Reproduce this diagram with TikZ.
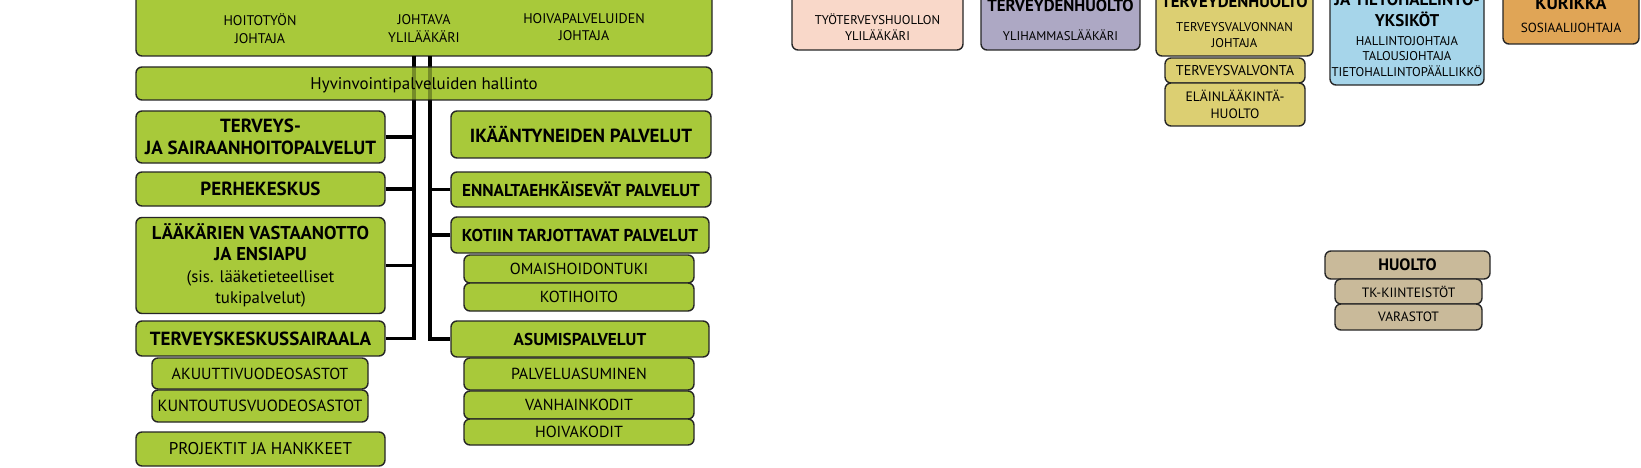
\documentclass[tikz,border=0pt]{standalone}
\usepackage{fontspec}
\setmainfont{PT Sans}
\definecolor{gr}{HTML}{A8C93A}
\definecolor{pk}{HTML}{F9D8C9}
\definecolor{lv}{HTML}{ADA8C4}
\definecolor{yl}{HTML}{DCCF72}
\definecolor{bl}{HTML}{A6D5EA}
\definecolor{og}{HTML}{E0A556}
\definecolor{tn}{HTML}{C9BA9A}
\tikzset{
  bx/.style={draw=black!85, line width=1.4pt, rounded corners=6pt, inner sep=0pt, align=center},
  gbox/.style={bx, fill=gr},
  bigf/.style={font=\fontsize{19}{22}\selectfont\bfseries},
  midf/.style={font=\fontsize{17.2}{20}\selectfont\bfseries},
  subf/.style={font=\fontsize{16}{18}\selectfont},
  topf/.style={font=\fontsize{14}{17.5}\selectfont},
  smf/.style={font=\fontsize{12.7}{16}\selectfont},
  conn/.style={line width=3.6pt, black},
  lbl/.style={inner sep=0pt, align=center}
}
\begin{document}
\begin{tikzpicture}[x=1pt,y=-1pt]
\useasboundingbox (0,0) rectangle (1641,468);
\clip (0,0) rectangle (1641,468);
\fill[white] (0,0) rectangle (1641,468);
% left big
\node[gbox, minimum width=576, minimum height=76] (top) at (424,18) {};
\node[lbl, topf] (t1) at (260,28.5) {HOITOTYÖN\\JOHTAJA};
\node[lbl, topf] (t2) at (424,28.5) {JOHTAVA\\YLILÄÄKÄRI};
\node[lbl, topf] (t3) at (584,27) {HOIVAPALVELUIDEN\\JOHTAJA};
\coordinate (sL) at (414,56);
\coordinate (sR) at (430,56);
% left column
\node[gbox, bigf, minimum width=249, minimum height=52] (terv) at (260.5,137) {TERVEYS-\\JA SAIRAANHOITOPALVELUT};
\node[gbox, bigf, minimum width=249, minimum height=34] (perhe) at (260.5,189) {PERHEKESKUS};
\node[gbox, minimum width=249, minimum height=96, font=\fontsize{16.8}{21.3}\selectfont] (laak) at (260.5,265.5) {\fontsize{18.6}{21.3}\selectfont\bfseries LÄÄKÄRIEN VASTAANOTTO\\\fontsize{18.6}{21.3}\selectfont\bfseries JA ENSIAPU\\(sis. lääketieteelliset\\tukipalvelut)};
\node[gbox, bigf, minimum width=249, minimum height=35] (tks) at (260.5,338.5) {TERVEYSKESKUSSAIRAALA};
\node[gbox, subf, minimum width=216, minimum height=31] (akuu) at (260,373.5) {AKUUTTIVUODEOSASTOT};
\node[gbox, font=\fontsize{16.2}{18}\selectfont, minimum width=216, minimum height=32] (kunt) at (260,406) {KUNTOUTUSVUODEOSASTOT};
\node[gbox, font=\fontsize{17}{18}\selectfont, minimum width=249, minimum height=34] (proj) at (260.5,449) {PROJEKTIT JA HANKKEET};
% right column
\node[gbox, bigf, minimum width=260, minimum height=47] (ikaa) at (581,134.5) {IKÄÄNTYNEIDEN PALVELUT};
\node[gbox, midf, minimum width=260, minimum height=35] (enna) at (581,189.5) {ENNALTAEHKÄISEVÄT PALVELUT};
\node[gbox, midf, minimum width=258, minimum height=36] (koti) at (580,235) {KOTIIN TARJOTTAVAT PALVELUT};
\node[gbox, subf, minimum width=230, minimum height=28] (omai) at (579,269) {OMAISHOIDONTUKI};
\node[gbox, subf, minimum width=230, minimum height=28] (kotih) at (579,297) {KOTIHOITO};
\node[gbox, midf, minimum width=258, minimum height=36] (asum) at (580,339) {ASUMISPALVELUT};
\node[gbox, subf, minimum width=230, minimum height=32] (palv) at (579,374) {PALVELUASUMINEN};
\node[gbox, subf, minimum width=230, minimum height=28] (vanh) at (579,405) {VANHAINKODIT};
\node[gbox, subf, minimum width=230, minimum height=26] (hoiv) at (579,432) {HOIVAKODIT};
% connectors
\draw[conn] (sL) |- (tks.east);
\draw[conn] (sR) |- (asum.west);
\draw[conn] (terv.east) -- (terv.east -| sL);
\draw[conn] (perhe.east) -- (perhe.east -| sL);
\draw[conn] (laak.east) -- (laak.east -| sL);
\draw[conn] (enna.west) -- (enna.west -| sR);
\draw[conn] (koti.west) -- (koti.west -| sR);
% hallinto over lines
\node[gbox, minimum width=576, minimum height=33, text depth=0pt, font=\fontsize{16.9}{20}\selectfont] (hall) at (424,83.5) {Hyvinvointipalveluiden hallinto};
\draw[conn, draw opacity=0.3] (hall.north -| sL) -- (hall.south -| sL);
\draw[conn, draw opacity=0.3] (hall.north -| sR) -- (hall.south -| sR);
% right top boxes
\node[bx, fill=pk, minimum width=171, minimum height=70] (pink) at (877.5,15) {};
\node[lbl, smf] (pinkt) at (877.5,27.5) {TYÖTERVEYSHUOLLON\\YLILÄÄKÄRI};
\node[bx, fill=lv, minimum width=159, minimum height=70] (purp) at (1060.5,15) {};
\node[lbl, font=\fontsize{16.8}{20}\selectfont\bfseries] (purpa) at (1060.5,6) {TERVEYDENHUOLTO};
\node[lbl, smf] (purpb) at (1060.5,35) {YLIHAMMASLÄÄKÄRI};
\node[bx, fill=yl, minimum width=157, minimum height=76] (yell) at (1234.5,18) {};
\node[lbl, font=\fontsize{16.8}{20}\selectfont\bfseries] (yella) at (1234.5,2) {TERVEYDENHUOLTO};
\node[lbl, smf] (yellb) at (1234.5,35) {TERVEYSVALVONNAN\\JOHTAJA};
\node[bx, fill=yl, font=\fontsize{14.2}{17}\selectfont, minimum width=140, minimum height=25] (tv) at (1235,70.5) {TERVEYSVALVONTA};
\node[bx, fill=yl, font=\fontsize{13.6}{17}\selectfont, minimum width=140, minimum height=43] (ela) at (1235,104.5) {ELÄINLÄÄKINTÄ-\\HUOLTO};
\node[bx, fill=bl, minimum width=154, minimum height=105] (blue) at (1407,32.5) {};
\node[lbl, font=\fontsize{17}{21}\selectfont\bfseries] (bluea) at (1407,10.5) {JA TIETOHALLINTO-\\YKSIKÖT};
\node[lbl, font=\fontsize{12.7}{15.5}\selectfont] (blueb) at (1407,56.5) {HALLINTOJOHTAJA\\TALOUSJOHTAJA\\TIETOHALLINTOPÄÄLLIKKÖ};
\node[bx, fill=og, minimum width=136, minimum height=64] (oran) at (1571,12) {};
\node[lbl, font=\fontsize{18}{20}\selectfont\bfseries] (orana) at (1571,3) {KURIKKA};
\node[lbl, font=\fontsize{13.2}{16}\selectfont] (oranb) at (1571,28) {SOSIAALIJOHTAJA};
% huolto
\node[bx, fill=tn, font=\fontsize{16.5}{18}\selectfont\bfseries, minimum width=165, minimum height=28] (huol) at (1407.5,265) {HUOLTO};
\node[bx, fill=tn, font=\fontsize{13.5}{16}\selectfont, minimum width=147, minimum height=25] (tkk) at (1408.5,291.5) {TK-KIINTEISTÖT};
\node[bx, fill=tn, font=\fontsize{13.5}{16}\selectfont, minimum width=147, minimum height=26] (var) at (1408.5,317) {VARASTOT};
\end{tikzpicture}
\end{document}
